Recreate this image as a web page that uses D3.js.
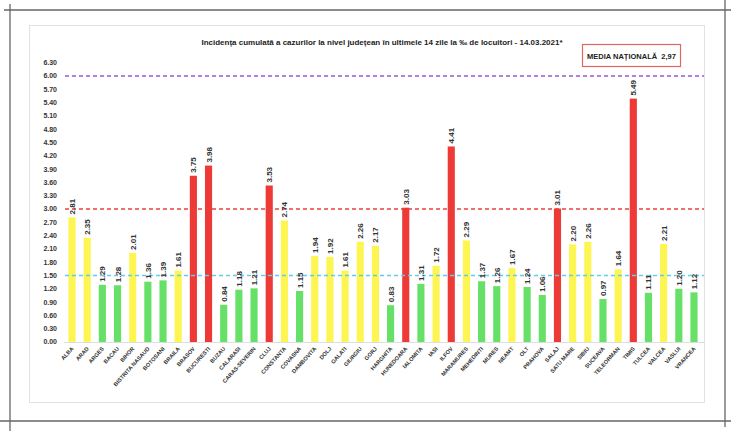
<!DOCTYPE html>
<html>
<head>
<meta charset="utf-8">
<script src="https://cdn.jsdelivr.net/npm/d3@7"></script>
<style>
  body { margin: 0; background: #fff; }
  text { font-family: "Liberation Sans", Arial, sans-serif; }
</style>
</head>
<body>
<script>
var width = 735, height = 431;

// data
var counties = ['ALBA','ARAD','ARGES','BACAU','BIHOR','BISTRITA NASAUD','BOTOSANI','BRAILA','BRASOV','BUCURESTI',
  'BUZAU','CALARASI','CARAS-SEVERIN','CLUJ','CONSTANTA','COVASNA','DAMBOVITA','DOLJ','GALATI','GIURGIU',
  'GORJ','HARGHITA','HUNEDOARA','IALOMITA','IASI','ILFOV','MARAMURES','MEHEDINTI','MURES','NEAMT',
  'OLT','PRAHOVA','SALAJ','SATU MARE','SIBIU','SUCEAVA','TELEORMAN','TIMIS','TULCEA','VALCEA','VASLUI','VRANCEA'];
var incidence = [2.81,2.35,1.29,1.28,2.01,1.36,1.39,1.61,3.75,3.98,
  0.84,1.18,1.21,3.53,2.74,1.15,1.94,1.92,1.61,2.26,
  2.17,0.83,3.03,1.31,1.72,4.41,2.29,1.37,1.26,1.67,
  1.24,1.06,3.01,2.20,2.26,0.97,1.64,5.49,1.11,2.21,1.20,1.12];
var yTicks = [0,0.3,0.6,0.9,1.2,1.5,1.8,2.1,2.4,2.7,3.0,3.3,3.6,3.9,4.2,4.5,4.8,5.1,5.4,5.7,6.0,6.3];
var thresholds = [1.5, 3.0, 6.0];
var thresholdColors = ['#66ccee', '#e8413c', '#9b59d6'];
var barColors = ['#66e066', '#fdf552', '#ee3a36'];
var title = 'Incidența cumulată a cazurilor la nivel județean în ultimele 14 zile la ‰ de locuitori - 14.03.2021*';
var mediaLabel = 'MEDIA NAȚIONALĂ  2,97';

var svg = d3.select('body').append('svg').attr('width', width).attr('height', height);

// crop marks
var marks = [[4,10,731,10],[10,4,10,431],[0,421,731,421],[725,0,725,427]];
svg.selectAll('.mark').data(marks).enter().append('line')
  .attr('x1', d => d[0]).attr('y1', d => d[1]).attr('x2', d => d[2]).attr('y2', d => d[3])
  .attr('stroke', '#666').attr('stroke-width', 1.3);

// chart frame
svg.append('rect').attr('x', 29.5).attr('y', 25.5).attr('width', 675).attr('height', 377)
  .attr('fill', '#fff').attr('stroke', '#e2e2e2');

var xScale = d3.scaleBand().domain(counties).range([64.5, 701.5]).paddingInner(0.53).paddingOuter(0.26);
var yScale = d3.scaleLinear().domain([0, 6]).range([342, 76]);

// y labels
svg.append('g').selectAll('text').data(yTicks).enter().append('text')
  .attr('x', 57).attr('y', d => yScale(d)).attr('dy', '0.35em')
  .attr('text-anchor', 'end').attr('font-size', 7).attr('font-weight', 'bold').attr('fill', '#333')
  .text(d => d.toFixed(2));

// baseline
svg.append('line').attr('x1', 64).attr('x2', 704).attr('y1', 342.5).attr('y2', 342.5)
  .attr('stroke', '#ddd');

// bars
function colorOf(v) { return v < thresholds[0] ? barColors[0] : (v < thresholds[1] ? barColors[1] : barColors[2]); }
var data = counties.map((c, i) => ({name: c, value: incidence[i]}));

svg.append('g').selectAll('rect').data(data).enter().append('rect')
  .attr('x', d => xScale(d.name)).attr('width', xScale.bandwidth())
  .attr('y', d => yScale(d.value)).attr('height', d => yScale(0) - yScale(d.value))
  .attr('fill', d => colorOf(d.value));

// threshold lines
svg.append('g').selectAll('line').data(thresholds).enter().append('line')
  .attr('x1', 65).attr('x2', 704).attr('y1', d => yScale(d)).attr('y2', d => yScale(d))
  .attr('stroke', (d, i) => thresholdColors[i]).attr('stroke-width', 1.3)
  .attr('stroke-dasharray', '4,3');

// value labels
svg.append('g').selectAll('text').data(data).enter().append('text')
  .attr('transform', d => 'translate(' + (xScale(d.name) + xScale.bandwidth()/2 + 3) + ',' + (yScale(d.value) - 3) + ') rotate(-90)')
  .attr('font-size', 8).attr('font-weight', 'bold').attr('fill', '#333')
  .text(d => d.value.toFixed(2));

// county labels, slanted (drawn at double size and scaled down)
svg.append('g').selectAll('g').data(counties).enter().append('g')
  .attr('transform', d => 'translate(' + (xScale(d) + xScale.bandwidth()/2 + 2) + ',349) rotate(-48) scale(0.5)')
  .append('text')
  .attr('text-anchor', 'end').attr('font-size', 11.2).attr('font-weight', 'bold').attr('fill', '#333')
  .text(d => d);

// title
svg.append('text').attr('x', 382).attr('y', 45).attr('text-anchor', 'middle')
  .attr('font-size', 8).attr('font-weight', 'bold').attr('fill', '#222')
  .attr('textLength', 361).attr('lengthAdjust', 'spacingAndGlyphs')
  .text(title);

// national average box
svg.append('rect').attr('x', 582.5).attr('y', 44.5).attr('width', 98).attr('height', 22)
  .attr('fill', '#fff').attr('stroke', '#e06666').attr('stroke-width', 1.2);
svg.append('text').attr('x', 631.5).attr('y', 58.5).attr('text-anchor', 'middle')
  .attr('font-size', 7.5).attr('font-weight', 'bold').attr('fill', '#222')
  .attr('xml:space', 'preserve')
  .text(mediaLabel);
</script>
</body>
</html>
